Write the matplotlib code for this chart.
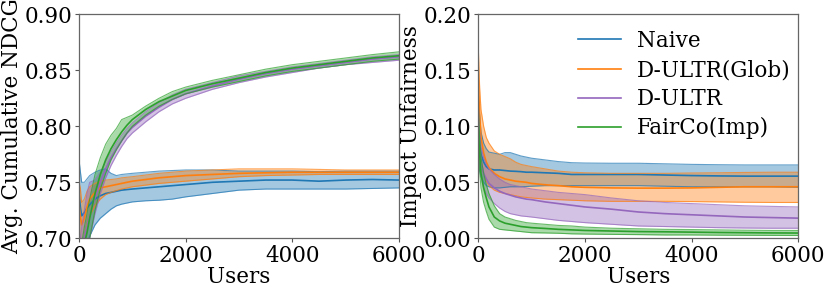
import matplotlib
matplotlib.use("Agg")
import matplotlib.pyplot as plt
import numpy as np

plt.rcParams['font.family'] = ['DejaVu Serif']

users = [0, 25, 50, 100, 150, 200, 300, 400, 500, 600, 700, 800, 900, 1000,
         1250, 1500, 1750, 2000, 2500, 3000, 3500, 4000, 4500, 5000, 5500, 6000]

labels = ["Naive", "D-ULTR(Glob)", "D-ULTR", "FairCo(Imp)"]
colors = ["#1f77b4", "#ff7f0e", "#9467bd", "#2ca02c"]

# ---- Avg. Cumulative NDCG ----
ndcg_naive_mean = [0.74, 0.728, 0.72, 0.723, 0.727, 0.730, 0.735, 0.738, 0.740, 0.741, 0.742, 0.743, 0.7435, 0.744,
                   0.745, 0.746, 0.747, 0.748, 0.750, 0.751, 0.752, 0.752, 0.751, 0.752, 0.7525, 0.752]
ndcg_naive_hi = [0.77, 0.76, 0.75, 0.75, 0.753, 0.756, 0.759, 0.761, 0.762, 0.758, 0.756, 0.757, 0.7575, 0.758,
                 0.759, 0.760, 0.7605, 0.761, 0.761, 0.760, 0.760, 0.760, 0.7595, 0.760, 0.760, 0.760]
ndcg_naive_lo = [0.71, 0.695, 0.69, 0.685, 0.695, 0.702, 0.712, 0.718, 0.722, 0.726, 0.729, 0.7305, 0.7315, 0.7325,
                 0.7335, 0.734, 0.735, 0.737, 0.740, 0.743, 0.744, 0.744, 0.744, 0.744, 0.7445, 0.745]

ndcg_glob_mean = [0.73, 0.72, 0.712, 0.718, 0.728, 0.735, 0.741, 0.745, 0.746, 0.747, 0.748, 0.749, 0.750, 0.751,
                  0.7525, 0.754, 0.755, 0.756, 0.757, 0.758, 0.7585, 0.759, 0.759, 0.759, 0.759, 0.759]
ndcg_glob_hi = [0.75, 0.745, 0.732, 0.735, 0.742, 0.746, 0.749, 0.751, 0.752, 0.7525, 0.753, 0.754, 0.7545, 0.755,
                0.7565, 0.758, 0.759, 0.760, 0.761, 0.762, 0.762, 0.762, 0.7615, 0.761, 0.761, 0.761]
ndcg_glob_lo = [0.71, 0.695, 0.692, 0.70, 0.712, 0.72, 0.729, 0.735, 0.739, 0.741, 0.7425, 0.744, 0.745, 0.746,
                0.7475, 0.749, 0.750, 0.751, 0.753, 0.755, 0.756, 0.7565, 0.757, 0.757, 0.757, 0.757]

ndcg_dultr_mean = [0.67, 0.675, 0.685, 0.70, 0.71, 0.72, 0.736, 0.750, 0.762, 0.772, 0.780, 0.787, 0.794, 0.799,
                   0.809, 0.817, 0.824, 0.829, 0.836, 0.842, 0.847, 0.851, 0.854, 0.857, 0.860, 0.862]
ndcg_dultr_hi = [0.69, 0.70, 0.71, 0.725, 0.74, 0.75, 0.752, 0.759, 0.768, 0.777, 0.785, 0.792, 0.798, 0.803,
                 0.813, 0.821, 0.828, 0.833, 0.839, 0.845, 0.849, 0.853, 0.856, 0.859, 0.862, 0.864]
ndcg_dultr_lo = [0.65, 0.655, 0.665, 0.68, 0.69, 0.70, 0.722, 0.740, 0.754, 0.765, 0.774, 0.782, 0.789, 0.794,
                 0.804, 0.813, 0.820, 0.825, 0.833, 0.839, 0.844, 0.848, 0.852, 0.855, 0.857, 0.859]

ndcg_fairco_mean = [0.67, 0.675, 0.68, 0.695, 0.705, 0.718, 0.740, 0.757, 0.770, 0.780, 0.788, 0.795, 0.801, 0.806,
                    0.815, 0.822, 0.827, 0.832, 0.838, 0.843, 0.848, 0.852, 0.855, 0.858, 0.861, 0.863]
ndcg_fairco_hi = [0.69, 0.69, 0.695, 0.71, 0.722, 0.735, 0.757, 0.772, 0.784, 0.792, 0.798, 0.806, 0.808, 0.810,
                  0.818, 0.825, 0.831, 0.835, 0.841, 0.846, 0.851, 0.855, 0.858, 0.861, 0.864, 0.8665]
ndcg_fairco_lo = [0.65, 0.66, 0.665, 0.68, 0.69, 0.70, 0.725, 0.744, 0.758, 0.770, 0.779, 0.787, 0.794, 0.800,
                  0.810, 0.818, 0.824, 0.829, 0.835, 0.840, 0.845, 0.849, 0.852, 0.855, 0.858, 0.860]

# ---- Impact Unfairness ----
unf_naive_mean = [0.095, 0.085, 0.075, 0.068, 0.064, 0.062, 0.061, 0.061, 0.0605, 0.060, 0.0598, 0.0595, 0.059, 0.059,
                  0.0585, 0.058, 0.057, 0.057, 0.057, 0.057, 0.0565, 0.056, 0.0557, 0.0555, 0.0555, 0.0555]
unf_naive_hi = [0.125, 0.11, 0.095, 0.085, 0.08, 0.077, 0.076, 0.075, 0.0765, 0.0765, 0.075, 0.0735, 0.0725, 0.0715,
                0.070, 0.0685, 0.0675, 0.0672, 0.067, 0.067, 0.0665, 0.066, 0.0657, 0.0655, 0.0655, 0.0655]
unf_naive_lo = [0.065, 0.06, 0.055, 0.05, 0.047, 0.046, 0.045, 0.045, 0.0455, 0.046, 0.046, 0.046, 0.0462, 0.0465,
                0.047, 0.047, 0.047, 0.047, 0.047, 0.047, 0.0465, 0.046, 0.046, 0.046, 0.046, 0.0455]

unf_glob_mean = [0.14, 0.11, 0.09, 0.076, 0.068, 0.063, 0.058, 0.055, 0.053, 0.052, 0.051, 0.0505, 0.050, 0.049,
                 0.0478, 0.047, 0.046, 0.0455, 0.045, 0.0448, 0.0448, 0.045, 0.0455, 0.046, 0.046, 0.046]
unf_glob_hi = [0.17, 0.135, 0.115, 0.10, 0.09, 0.085, 0.078, 0.075, 0.073, 0.071, 0.068, 0.066, 0.065, 0.064,
               0.062, 0.060, 0.059, 0.0585, 0.058, 0.058, 0.058, 0.0583, 0.0585, 0.0588, 0.059, 0.059]
unf_glob_lo = [0.11, 0.085, 0.07, 0.058, 0.051, 0.047, 0.043, 0.041, 0.040, 0.039, 0.038, 0.037, 0.0365, 0.036,
               0.035, 0.0345, 0.034, 0.0335, 0.033, 0.033, 0.033, 0.0328, 0.0325, 0.0322, 0.032, 0.032]

unf_dultr_mean = [0.10, 0.08, 0.068, 0.058, 0.053, 0.049, 0.045, 0.042, 0.040, 0.0385, 0.037, 0.036, 0.035, 0.0345,
                  0.0325, 0.031, 0.0295, 0.028, 0.026, 0.0235, 0.022, 0.021, 0.020, 0.019, 0.0185, 0.018]
unf_dultr_hi = [0.12, 0.095, 0.082, 0.072, 0.066, 0.062, 0.057, 0.053, 0.050, 0.048, 0.047, 0.046, 0.045, 0.044,
                0.0425, 0.041, 0.040, 0.039, 0.036, 0.0335, 0.032, 0.031, 0.030, 0.029, 0.0285, 0.028]
unf_dultr_lo = [0.08, 0.065, 0.055, 0.045, 0.040, 0.036, 0.031, 0.027, 0.024, 0.022, 0.021, 0.020, 0.0195, 0.019,
                0.0175, 0.016, 0.015, 0.014, 0.0125, 0.011, 0.0105, 0.010, 0.0095, 0.0092, 0.009, 0.009]

unf_fairco_mean = [0.10, 0.075, 0.058, 0.045, 0.036, 0.028, 0.019, 0.0155, 0.0135, 0.0125, 0.0115, 0.0105, 0.010, 0.0095,
                   0.0088, 0.008, 0.0075, 0.007, 0.0065, 0.006, 0.0058, 0.0055, 0.0052, 0.005, 0.0048, 0.0047]
unf_fairco_hi = [0.12, 0.09, 0.072, 0.058, 0.048, 0.040, 0.029, 0.022, 0.019, 0.0175, 0.016, 0.015, 0.014, 0.0135,
                 0.0125, 0.0115, 0.011, 0.010, 0.009, 0.0085, 0.008, 0.0078, 0.0075, 0.0072, 0.007, 0.007]
unf_fairco_lo = [0.08, 0.06, 0.045, 0.032, 0.024, 0.017, 0.010, 0.008, 0.0075, 0.007, 0.0065, 0.006, 0.0055, 0.005,
                 0.0048, 0.0045, 0.004, 0.0038, 0.0035, 0.0033, 0.003, 0.003, 0.0028, 0.0027, 0.0026, 0.0025]

ndcg = [(ndcg_naive_mean, ndcg_naive_lo, ndcg_naive_hi),
        (ndcg_glob_mean, ndcg_glob_lo, ndcg_glob_hi),
        (ndcg_dultr_mean, ndcg_dultr_lo, ndcg_dultr_hi),
        (ndcg_fairco_mean, ndcg_fairco_lo, ndcg_fairco_hi)]
unf = [(unf_naive_mean, unf_naive_lo, unf_naive_hi),
       (unf_glob_mean, unf_glob_lo, unf_glob_hi),
       (unf_dultr_mean, unf_dultr_lo, unf_dultr_hi),
       (unf_fairco_mean, unf_fairco_lo, unf_fairco_hi)]

W, H = 830, 292
fig = plt.figure(figsize=(W / 100, H / 100), dpi=100)
ax1 = fig.add_axes([79 / W, 1 - 238.3 / H, 320 / W, 224 / H])
ax2 = fig.add_axes([478.3 / W, 1 - 238.3 / H, 320 / W, 224 / H])

FS = 15.5


def draw(ax, data):
    for (m, lo, hi), c, lab in zip(data, colors, labels):
        ax.fill_between(users, lo, hi, color=c, alpha=0.4, linewidth=0)
        ax.plot(users, lo, color=c, lw=0.8, alpha=0.7)
        ax.plot(users, hi, color=c, lw=0.8, alpha=0.7)
        ax.plot(users, m, color=c, lw=1.2, label=lab)
    ax.set_xlim(0, 6000)
    ax.set_xticks([0, 2000, 4000, 6000])
    ax.tick_params(labelsize=FS, length=3, width=0.8, color="#555555", pad=2)
    for s in ax.spines.values():
        s.set_color("#666666")
        s.set_linewidth(0.9)
    ax.set_xlabel("Users", fontsize=FS, labelpad=-1)


draw(ax1, ndcg)
ax1.set_ylim(0.70, 0.90)
ax1.set_yticks([0.70, 0.75, 0.80, 0.85, 0.90])
ax1.set_ylabel("Avg. Cumulative NDCG", fontsize=FS, labelpad=1)

draw(ax2, unf)
ax2.set_ylim(0.0, 0.20)
ax2.set_yticks([0.00, 0.05, 0.10, 0.15, 0.20])
ax2.set_ylabel("Impact Unfairness", fontsize=FS, labelpad=1)
ax2.legend(loc="upper left", frameon=False, fontsize=FS, handlelength=2.0,
           handletextpad=0.75, labelspacing=0.33, borderpad=0, borderaxespad=0,
           bbox_to_anchor=(578 / W, 1 - 30 / H), bbox_transform=fig.transFigure)

fig.savefig("out.png", dpi=100)
